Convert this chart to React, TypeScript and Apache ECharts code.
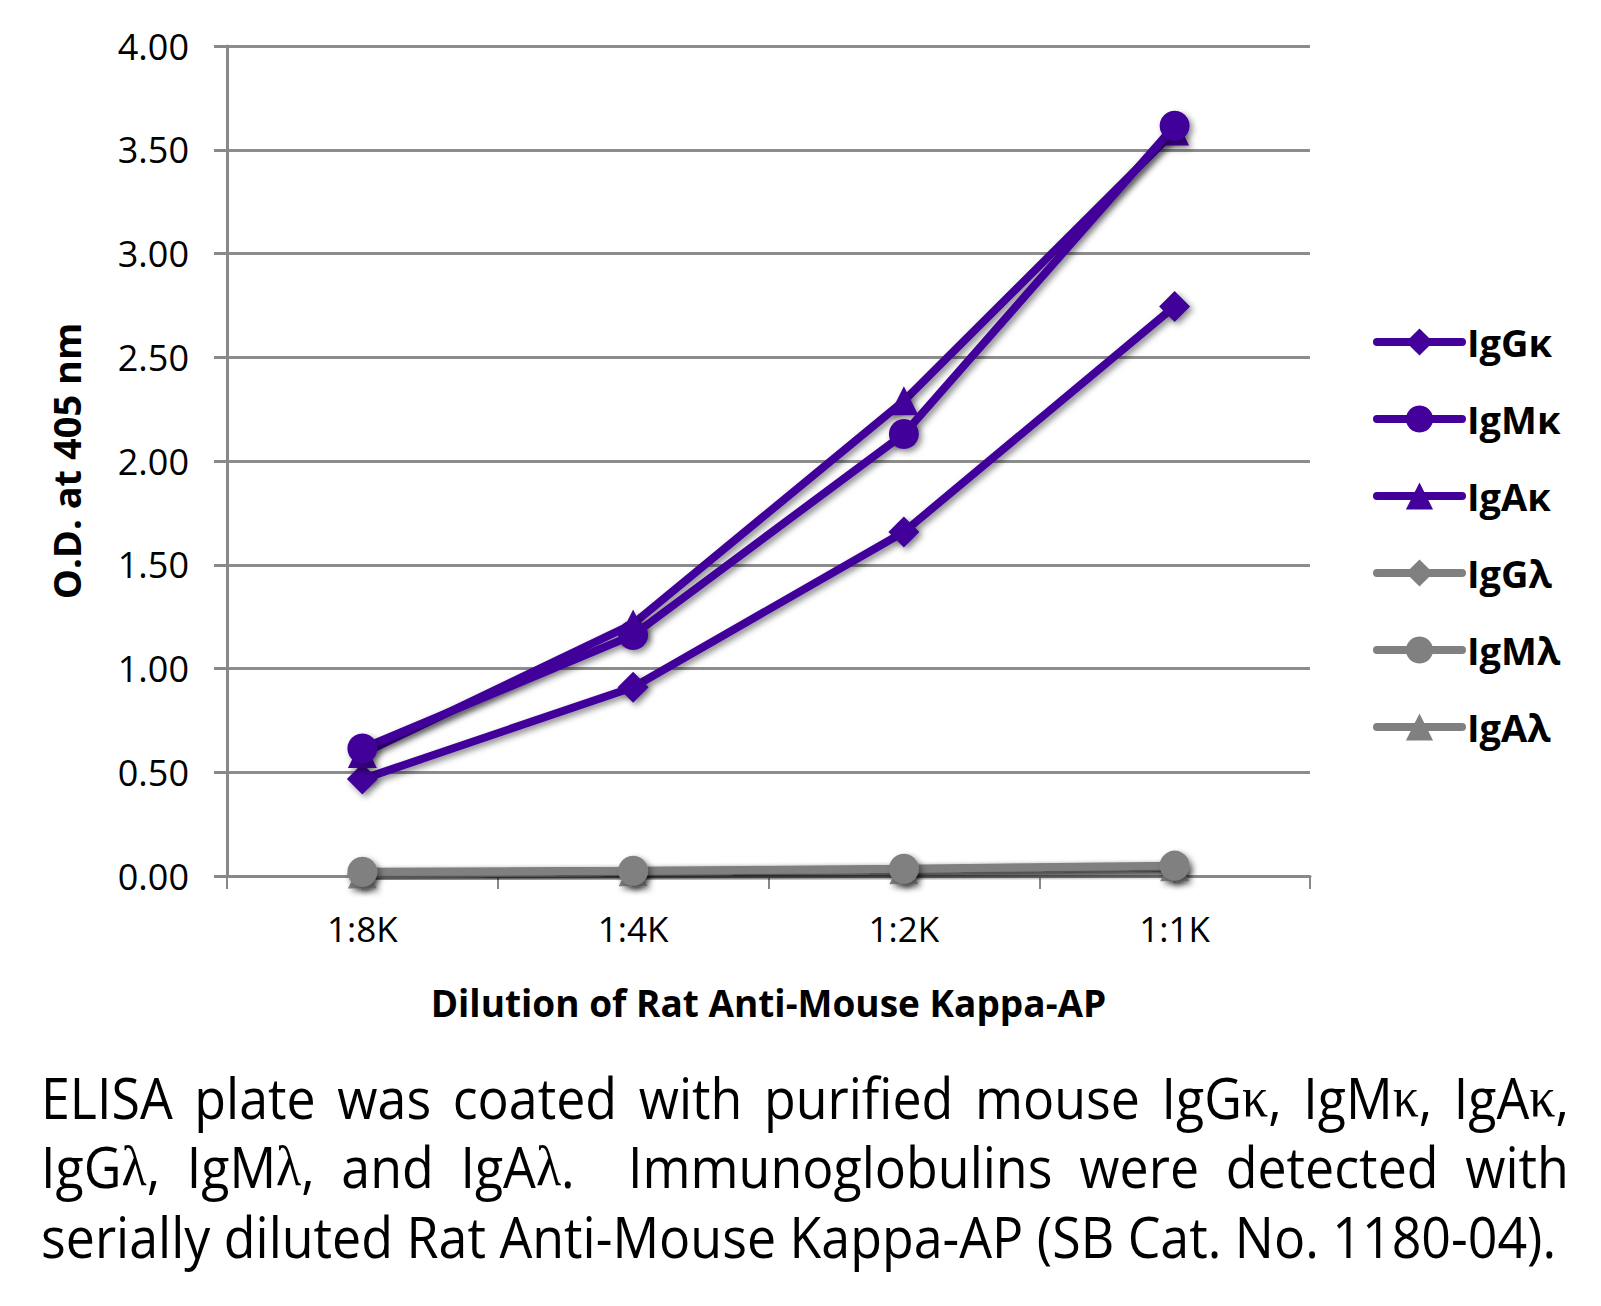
import React, { useEffect, useRef } from 'react';
import * as echarts from 'echarts';

const categories = ['1:8K', '1:4K', '1:2K', '1:1K'];
const seriesNames = ['IgGκ', 'IgMκ', 'IgAκ', 'IgGλ', 'IgMλ', 'IgAλ'];
const igGkappa = [0.467, 0.91, 1.658, 2.745];
const igMkappa = [0.615, 1.161, 2.13, 3.616];
const igAkappa = [0.59, 1.215, 2.29, 3.59];
const igGlambda = [0.01, 0.02, 0.03, 0.04];
const igMlambda = [0.02, 0.025, 0.035, 0.05];
const igAlambda = [0.01, 0.02, 0.03, 0.045];
const yMin = 0;
const yMax = 4;
const yInterval = 0.5;
const xAxisTitle = 'Dilution of Rat Anti-Mouse Kappa-AP';
const yAxisTitle = 'O.D. at 405 nm';
const captionLines = [
  'ELISA plate was coated with purified mouse IgGκ, IgMκ, IgAκ,',
  'IgGλ, IgMλ, and IgAλ.  Immunoglobulins were detected with',
  'serially diluted Rat Anti-Mouse Kappa-AP (SB Cat. No. 1180-04).',
];

const PURPLE = '#43009b';
const GRAY = '#808080';
const FONT = '"Open Sans", sans-serif';
const GREEK_FONT = '"Liberation Serif", serif';
const CAP_SIZE = 57;

const shadow = {
  shadowColor: 'rgba(0,0,0,0.45)',
  shadowBlur: 6,
  shadowOffsetX: 3,
  shadowOffsetY: 3,
};

function makeSeries(name: string, data: number[], color: string, symbol: string, size: number, z: number) {
  return {
    name,
    type: 'line',
    data,
    symbol,
    symbolSize: size,
    z,
    lineStyle: { color, width: 8, ...shadow },
    itemStyle: { color, ...shadow },
    emphasis: { disabled: true },
  };
}

function buildCaption() {
  const canvas = document.createElement('canvas');
  const ctx = canvas.getContext('2d') as CanvasRenderingContext2D;
  const measure = (t: string, f: string) => {
    ctx.font = `${CAP_SIZE}px ${f}`;
    return ctx.measureText(t).width;
  };
  const wordInfo = (word: string) => {
    let rich = '';
    let width = 0;
    let buf = '';
    for (const ch of word) {
      if (ch === 'κ' || ch === 'λ') {
        if (buf) { rich += buf; width += measure(buf, FONT); buf = ''; }
        rich += `{g|${ch}}`;
        width += measure(ch, GREEK_FONT);
      } else {
        buf += ch;
      }
    }
    if (buf) { rich += buf; width += measure(buf, FONT); }
    return { rich, width };
  };
  const lastWidth = measure(captionLines[2], FONT);
  const scaleX = 1516 / lastWidth;
  const left = 41;
  const right = 1569;
  const ys = [1097, 1166, 1236];
  const richStyle = { g: { fontFamily: GREEK_FONT, fontSize: CAP_SIZE, fill: '#000' } };
  const elements: any[] = [];
  for (let i = 0; i < 2; i++) {
    const words = captionLines[i].split(' ').map(wordInfo);
    const sum = words.reduce((a, b) => a + b.width, 0);
    const avail = (right - left) / scaleX;
    const gap = (avail - sum) / (words.length - 1);
    let cum = 0;
    words.forEach((w) => {
      if (w.rich) {
        elements.push({
          type: 'text',
          x: left + cum * scaleX,
          y: ys[i],
          scaleX,
          silent: true,
          style: {
            text: w.rich,
            fontFamily: FONT,
            fontSize: CAP_SIZE,
            fill: '#000',
            verticalAlign: 'middle',
            align: 'left',
            rich: richStyle,
          },
        });
      }
      cum += w.width + gap;
    });
  }
  elements.push({
    type: 'text',
    x: left,
    y: ys[2],
    scaleX,
    silent: true,
    style: {
      text: captionLines[2],
      fontFamily: FONT,
      fontSize: CAP_SIZE,
      fill: '#000',
      verticalAlign: 'middle',
      align: 'left',
    },
  });
  return elements;
}

export default function App() {
  const ref = useRef<HTMLDivElement>(null);
  useEffect(() => {
    document.body.style.margin = '0';
    if (!ref.current) return;
    const chart = echarts.init(ref.current, null, { renderer: 'svg' });
    const option: any = {
      animation: false,
      backgroundColor: '#ffffff',
      grid: { left: 227, right: 291, top: 46, bottom: 430, containLabel: false },
      legend: {
        orient: 'vertical',
        left: 1373,
        top: 323,
        padding: 0,
        itemWidth: 85,
        itemHeight: 34,
        itemGap: 39,
        selectedMode: false,
        data: seriesNames,
        textStyle: { fontFamily: FONT, fontWeight: 'bold', fontSize: 38, color: '#000' },
        itemStyle: { shadowBlur: 0, shadowColor: 'transparent', shadowOffsetX: 0, shadowOffsetY: 0 },
        lineStyle: { width: 8, shadowBlur: 0, shadowColor: 'transparent', shadowOffsetX: 0, shadowOffsetY: 0, cap: 'round' },
      },
      xAxis: {
        type: 'category',
        data: categories,
        boundaryGap: true,
        axisLine: { lineStyle: { color: '#888', width: 3 } },
        axisTick: { show: true, length: 13, alignWithLabel: false, lineStyle: { color: '#888', width: 2 } },
        axisLabel: { fontFamily: FONT, fontSize: 35, color: '#000', margin: 35 },
        name: xAxisTitle,
        nameLocation: 'middle',
        nameGap: 108,
        nameTextStyle: { fontFamily: FONT, fontWeight: 'bold', fontSize: 37, color: '#000' },
        splitLine: { show: false },
      },
      yAxis: {
        type: 'value',
        min: yMin,
        max: yMax,
        interval: yInterval,
        axisLine: { show: true, lineStyle: { color: '#888', width: 3 } },
        axisTick: { show: true, length: 13, lineStyle: { color: '#888', width: 3 } },
        splitLine: { lineStyle: { color: '#8c8c8c', width: 3 } },
        axisLabel: {
          fontFamily: FONT,
          fontSize: 36,
          color: '#000',
          margin: 38,
          formatter: (v: number) => v.toFixed(2),
        },
        name: yAxisTitle,
        nameLocation: 'middle',
        nameGap: 142,
        nameRotate: 90,
        nameTextStyle: { fontFamily: FONT, fontWeight: 'bold', fontSize: 38, color: '#000' },
      },
      series: [
        makeSeries(seriesNames[0], igGkappa, PURPLE, 'diamond', 31, 2),
        makeSeries(seriesNames[1], igMkappa, PURPLE, 'circle', 30, 4),
        makeSeries(seriesNames[2], igAkappa, PURPLE, 'triangle', 29, 3),
        makeSeries(seriesNames[3], igGlambda, GRAY, 'diamond', 31, 5),
        makeSeries(seriesNames[4], igMlambda, GRAY, 'circle', 30, 7),
        makeSeries(seriesNames[5], igAlambda, GRAY, 'triangle', 29, 6),
      ],
      graphic: buildCaption(),
    };
    chart.setOption(option);
    return () => chart.dispose();
  }, []);
  return <div ref={ref} style={{ width: 1601, height: 1306 }} />;
}
